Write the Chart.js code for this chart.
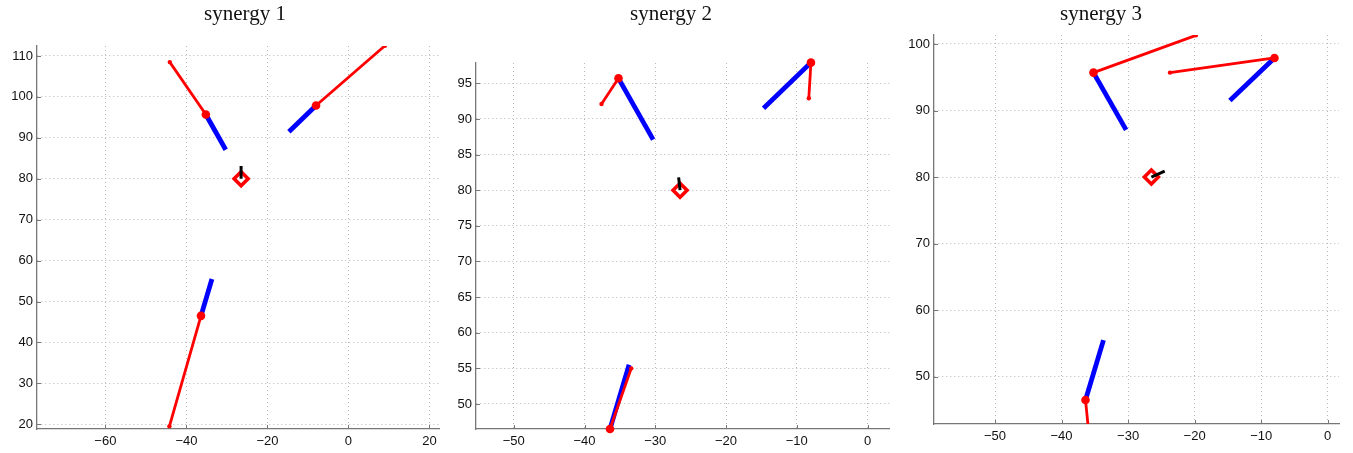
<!DOCTYPE html>
<html>
<head>
<meta charset="utf-8">
<script src="https://cdn.jsdelivr.net/npm/chart.js@4/dist/chart.umd.min.js"></script>
<style>
  html, body { margin: 0; padding: 0; background: #ffffff; }
  body { width: 1353px; height: 453px; position: relative; overflow: hidden; }
  canvas { position: absolute; top: 0; }
</style>
</head>
<body>
<canvas id="c1" width="450" height="453" style="left:0px"></canvas>
<canvas id="c2" width="460" height="453" style="left:440px"></canvas>
<canvas id="c3" width="456" height="453" style="left:897px"></canvas>
<script>
// ---------- data ----------
const synergyTitles = ['synergy 1', 'synergy 2', 'synergy 3'];

const bodyX = [-26.5];
const bodyY = [80];

// joints (red dots), same for all synergies
const jointX = [-35.2, -8.0, -36.4];
const jointY = [95.7, 97.9, 46.5];

// blue segment end points
const blueEndX = [-30.3, -14.7, -33.7];
const blueEndY = [87.1, 91.5, 55.5];

// red segment end points per synergy
const redEndX1 = [-44.1, 9.0, -44.2];
const redEndY1 = [108.5, 112.5, 19.5];
const redEndX2 = [-37.6, -8.3, -33.4];
const redEndY2 = [92.1, 92.9, 55.0];
const redEndX3 = [-19.8, -23.7, -35.9];
const redEndY3 = [101.3, 95.7, 41.5];

// black segment end points per synergy
const blackEndX = [-26.5, -26.7, -24.5];
const blackEndY = [83.1, 81.8, 80.9];

// tick labels
const xTicks1 = [-60, -40, -20, 0, 20];
const yTicks1 = [20, 30, 40, 50, 60, 70, 80, 90, 100, 110];
const xTicks2 = [-50, -40, -30, -20, -10, 0];
const yTicks2 = [50, 55, 60, 65, 70, 75, 80, 85, 90, 95];
const xTicks3 = [-50, -40, -30, -20, -10, 0];
const yTicks3 = [50, 60, 70, 80, 90, 100];

// ---------- chart building ----------
const RED = '#ff0000', BLUE = '#0000ff', BLACK = '#000000';
const AXIS = '#777777';

const panels = [
  { id: 'c1', title: synergyTitles[0], redX: redEndX1, redY: redEndY1, xt: xTicks1, yt: yTicks1,
    xmin: -76.88, xmax: 22.45, ymin: 18.85, ymax: 112.44,
    pad: { left: 0, right: 7, top: 46, bottom: 0 }, yW: 37, xH: 24, titleX: 245 },
  { id: 'c2', title: synergyTitles[1], redX: redEndX2, redY: redEndY2, xt: xTicks2, yt: yTicks2,
    xmin: -55.34, xmax: 3.09, ymin: 46.49, ymax: 97.85,
    pad: { left: 0, right: 8, top: 63, bottom: 0 }, yW: 36, xH: 24, titleX: 231 },
  { id: 'c3', title: synergyTitles[2], redX: redEndX3, redY: redEndY3, xt: xTicks3, yt: yTicks3,
    xmin: -59.17, xmax: 1.70, ymin: 42.89, ymax: 101.35,
    pad: { left: 0, right: 14, top: 35, bottom: 0 }, yW: 37, xH: 29, titleX: 204 }
];

const titlePlugin = {
  id: 'panelTitle',
  afterDraw(chart, args, opts) {
    const ctx = chart.ctx;
    ctx.save();
    ctx.font = '21px "Liberation Serif", "Times New Roman", serif';
    ctx.fillStyle = '#111111';
    ctx.textAlign = 'center';
    ctx.textBaseline = 'alphabetic';
    ctx.fillText(opts.text, opts.x, 20);
    ctx.restore();
  }
};

const inwardTicks = {
  id: 'inwardTicks',
  afterDatasetsDraw(chart) {
    const ctx = chart.ctx, a = chart.chartArea;
    const xs = chart.scales.x, ys = chart.scales.y;
    ctx.save();
    ctx.strokeStyle = AXIS;
    ctx.lineWidth = 1;
    ctx.beginPath();
    xs.ticks.forEach(t => {
      const p = Math.round(xs.getPixelForValue(t.value)) + 0.5;
      ctx.moveTo(p, a.bottom); ctx.lineTo(p, a.bottom - 4);
    });
    ys.ticks.forEach(t => {
      const p = Math.round(ys.getPixelForValue(t.value)) + 0.5;
      ctx.moveTo(a.left, p); ctx.lineTo(a.left + 4, p);
    });
    ctx.stroke();
    ctx.restore();
  }
};

function seg(x0, y0, x1, y1) { return [{ x: x0, y: y0 }, { x: x1, y: y1 }]; }

panels.forEach((P, k) => {
  const datasets = [];
  // joints on top (dataset 0 is drawn last)
  datasets.push({
    data: jointX.map((x, i) => ({ x: x, y: jointY[i] })),
    showLine: false, pointStyle: 'circle', pointRadius: 4.3,
    pointBackgroundColor: RED, pointBorderColor: RED, pointBorderWidth: 0, clip: false
  });
  // black segment above the diamond
  datasets.push({
    data: seg(bodyX[0], bodyY[0], blackEndX[k], blackEndY[k]),
    showLine: true, borderColor: BLACK, borderWidth: 3, pointRadius: 0
  });
  // body diamond
  datasets.push({
    data: bodyX.map((x, i) => ({ x: x, y: bodyY[i] })),
    showLine: false, pointStyle: 'rectRot', pointRadius: 7,
    pointBackgroundColor: '#ffffff', pointBorderColor: RED, pointBorderWidth: 3.6
  });
  // red segments
  for (let i = 0; i < jointX.length; i++) {
    datasets.push({
      data: seg(jointX[i], jointY[i], P.redX[i], P.redY[i]),
      showLine: true, borderColor: RED, borderWidth: 2.8,
      pointRadius: [0, 2.2], pointBackgroundColor: RED, pointBorderWidth: 0, clip: 0
    });
  }
  // blue segments
  for (let i = 0; i < jointX.length; i++) {
    datasets.push({
      data: seg(jointX[i], jointY[i], blueEndX[i], blueEndY[i]),
      showLine: true, borderColor: BLUE, borderWidth: 4.8, borderCapStyle: 'butt',
      pointRadius: 0
    });
  }

  const tickFont = { family: '"Liberation Sans", Arial, sans-serif', size: 13 };
  new Chart(document.getElementById(P.id), {
    type: 'scatter',
    data: { datasets },
    options: {
      responsive: false, animation: false, devicePixelRatio: 1,
      layout: { padding: P.pad },
      plugins: {
        legend: { display: false }, tooltip: { enabled: false },
        panelTitle: { text: P.title, x: P.titleX }
      },
      scales: {
        x: {
          type: 'linear', min: P.xmin, max: P.xmax,
          afterBuildTicks: s => { s.ticks = P.xt.map(v => ({ value: v })); },
          afterFit: s => { s.height = P.xH; },
          ticks: { font: tickFont, color: '#111111', padding: 5, maxRotation: 0,
                   callback: v => String(v).replace('-', '\u2212') },
          grid: { color: '#b8b8b8', lineWidth: 1, drawTicks: false },
          border: { color: AXIS, width: 1.3, dash: [1, 3] }
        },
        y: {
          type: 'linear', min: P.ymin, max: P.ymax,
          afterBuildTicks: s => { s.ticks = P.yt.map(v => ({ value: v })); },
          afterFit: s => { s.width = P.yW; },
          ticks: { font: tickFont, color: '#111111', padding: 4,
                   callback: v => String(v) },
          grid: { color: '#b8b8b8', lineWidth: 1, drawTicks: false },
          border: { color: AXIS, width: 1.3, dash: [1, 3] }
        }
      }
    },
    plugins: [titlePlugin, inwardTicks]
  });
});
</script>
</body>
</html>
